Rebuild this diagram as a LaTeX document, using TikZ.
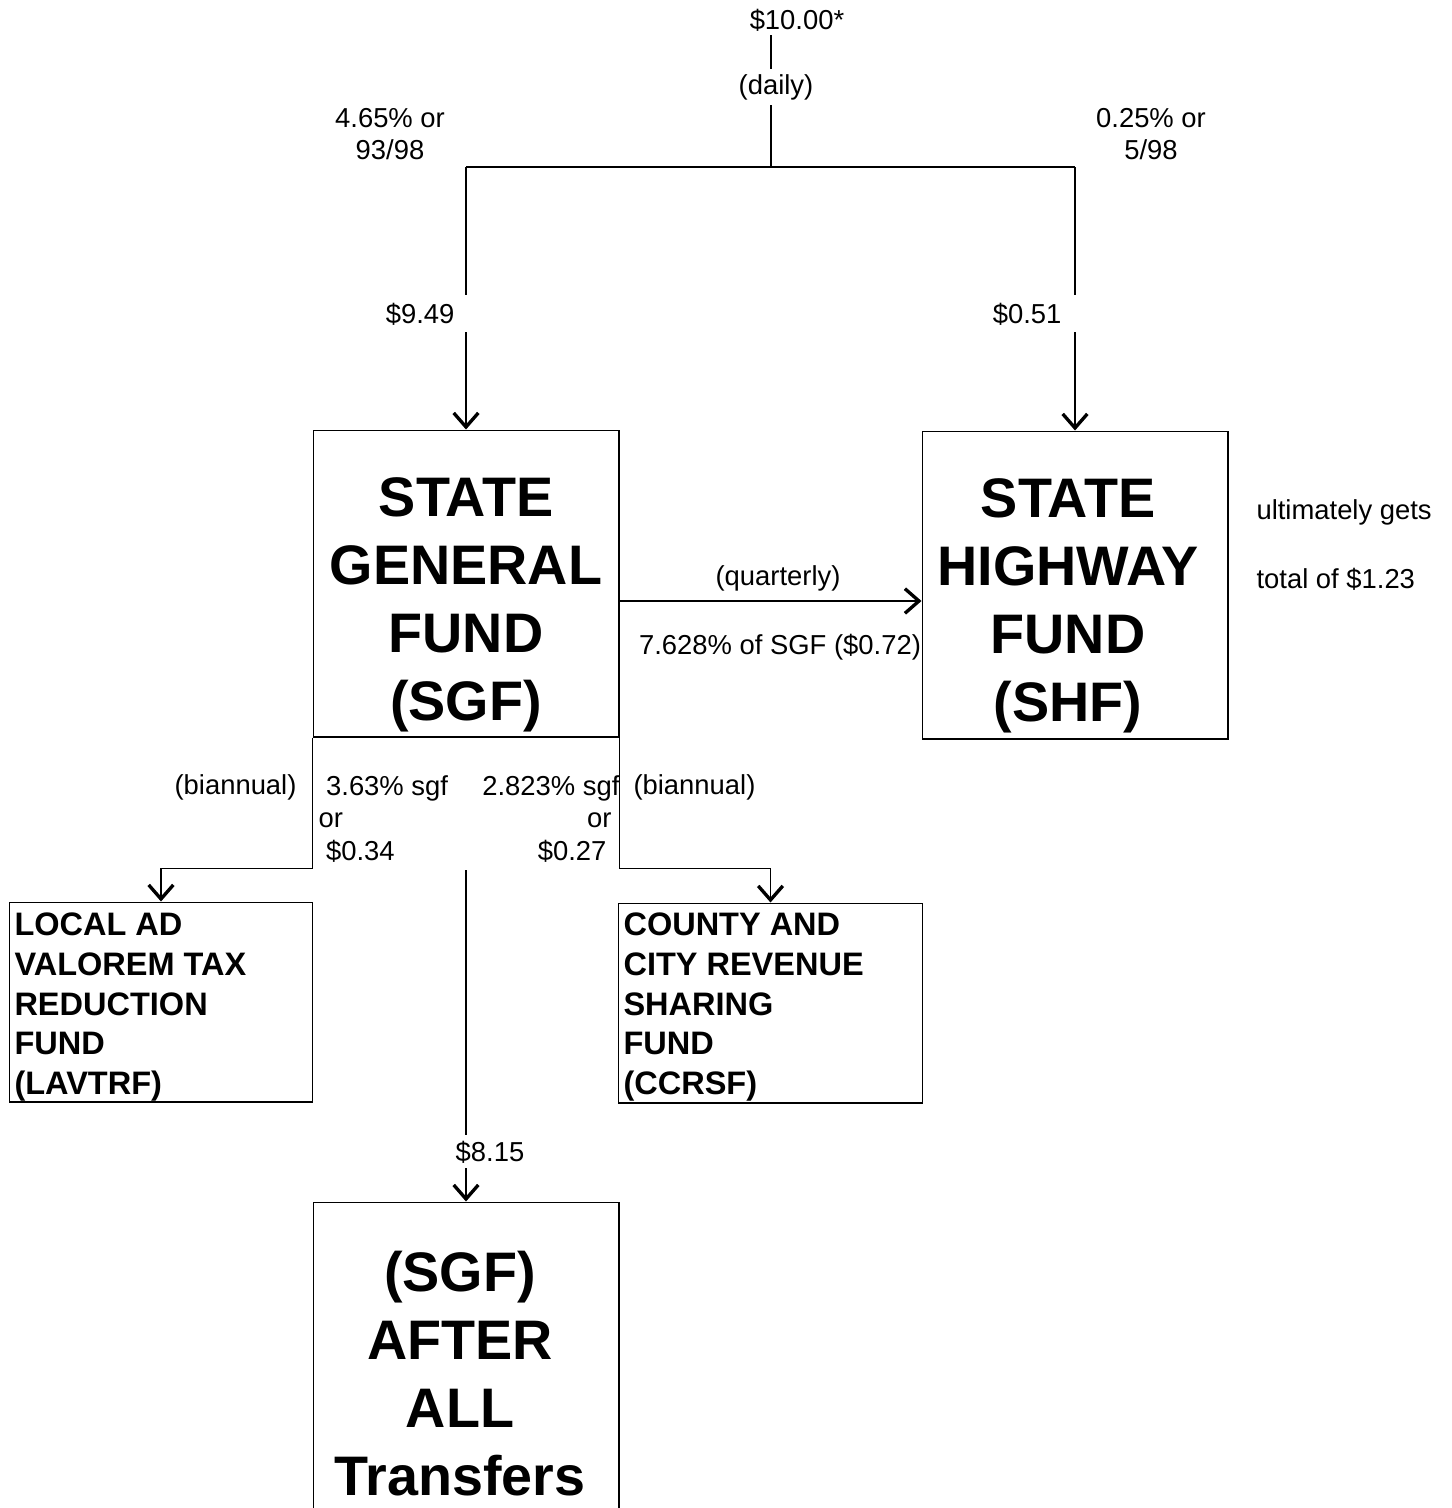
\documentclass[tikz,border=0pt]{standalone}
\usepackage{fontspec}
\setmainfont{Liberation Sans}
\usepackage{tikz}
\usetikzlibrary{positioning, arrows, arrows.meta}

\begin{document}
\begin{tikzpicture}[x=0.02cm, y=-0.02cm, line width=0.6pt,
  arr/.style={-{Straight Barb[length=8pt, width=14pt, line width=1.9pt]}},
  lbl/.style={font=\fontsize{15.6}{18.4}\selectfont, inner sep=0pt},
  big/.style={font=\fontsize{31.7}{38.7}\selectfont\bfseries, align=center, inner sep=0pt},
  mid/.style={font=\fontsize{18.5}{22.7}\selectfont\bfseries, align=left, inner sep=0pt},
  fundbox/.style={draw, minimum width=6.12cm, minimum height=6.14cm, inner sep=0pt},
  smallbox/.style={draw, minimum width=6.07cm, minimum height=4cm, inner sep=0pt}]
\useasboundingbox (0,0) rectangle (1452,1508);

% fund boxes
\node[fundbox] (sgf) at (466,583.5) {};
\node[fundbox, minimum height=6.16cm] (shf) at (1075,585) {};
\node[smallbox] (lav) at (161,1002) {};
\node[smallbox] (ccr) at (770.5,1003) {};
\node[fundbox, minimum height=6.4cm] (after) at (466,1362) {};

\node[big, anchor=north] (sgftxt) at (466,477) {STATE\\GENERAL\\FUND\\(SGF)};
\node[big, anchor=north] (shftxt) at (1068,478) {STATE\\HIGHWAY\\FUND\\(SHF)};
\node[big, anchor=north] (aftertxt) at (460,1251) {(SGF)\\AFTER\\ALL\\Transfers};
\node[mid, anchor=north west] (lavtxt) at (14,912) {LOCAL AD\\VALOREM TAX\\REDUCTION\\FUND\\(LAVTRF)};
\node[mid, anchor=north west] (ccrtxt) at (623,912) {COUNTY AND\\CITY REVENUE\\SHARING\\FUND\\(CCRSF)};

% daily split
\node[lbl, anchor=base] (total) at (797,29) {\$10.00*};
\coordinate (split) at (771,167);
\draw (total.south -| split) ++(0,4) -- (split);
\draw (sgf.north |- split) -- (shf.north |- split);
\node[lbl, anchor=base, fill=white, inner sep=3pt] (daily) at (776,94) {(daily)};
\node[lbl, align=center, anchor=north] (lpct) at (390,108) {4.65\% or\\93/98};
\node[lbl, align=center, anchor=north] (rpct) at (1151,108) {0.25\% or\\5/98};

\node[lbl, anchor=base east, inner sep=4pt] (l949) at (462,323) {\$9.49};
\node[lbl, anchor=base east, inner sep=4pt] (l051) at (1069,323) {\$0.51};
\draw (sgf.north |- split) -- (sgf.north |- l949.north);
\draw[arr] (sgf.north |- l949.south) -- (sgf.north);
\draw (shf.north |- split) -- (shf.north |- l051.north);
\draw[arr] (shf.north |- l051.south) -- (shf.north);

% quarterly transfer
\draw[arr] ([yshift=-0.35cm]sgf.east) -- ([yshift=-0.35cm]sgf.east -| shf.west);
\node[lbl, anchor=base] (qtr) at (778,585) {(quarterly)};
\node[lbl, anchor=base] (share) at (780,654) {7.628\% of SGF (\$0.72)};
\node[lbl, anchor=base west] (ult) at (1256,519) {ultimately gets};
\node[lbl, anchor=base west] (tot) at (1256,588) {total of \$1.23};

% biannual transfers
\draw[arr] (sgf.south west) -- ++(0,131) -| (lav.north);
\draw[arr] (sgf.south east) -- ++(0,131) -| (ccr.north);
\node[lbl, anchor=base east] (lbi) at (297,794) {(biannual)};
\node[lbl, anchor=base west] (rbi) at (633,794) {(biannual)};
\node[lbl, align=left, anchor=north west] (lsh) at (318,775) {~3.63\% sgf\\or\\~\$0.34};
\node[lbl, align=right, anchor=north east] (rsh) at (620,775) {2.823\% sgf\\or\hbox to 0.16cm{}\\\$0.27\hbox to 0.26cm{}};

% what is left
\coordinate (rest) at (466,870);
\draw[arr] (rest) -- (after.north);
\node[lbl, anchor=base, fill=white, inner sep=3pt] (l815) at (490,1161) {\$8.15};
\end{tikzpicture}
\end{document}
